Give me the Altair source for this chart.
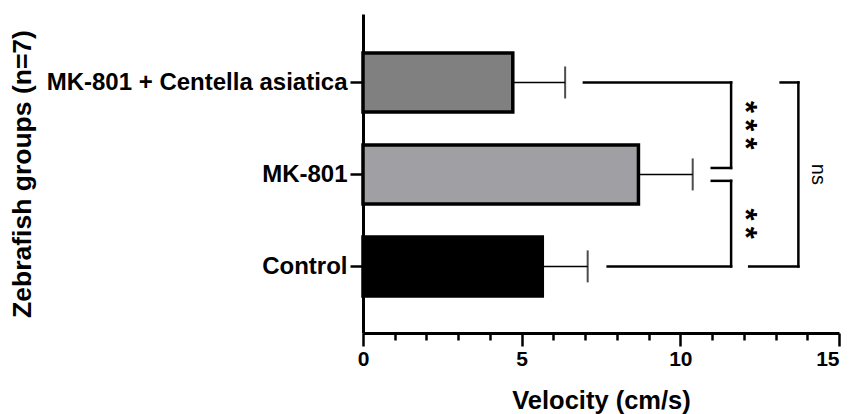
import altair as alt
import pandas as pd

# ---- data ----
groups = ["Control", "MK-801", "MK-801 + Centella asiatica"]
group_pos = [0, 1, 2]
velocity = [5.65, 8.68, 4.72]
sem = [1.43, 1.71, 1.65]
bar_colors = ["#000000", "#A0A0A4", "#808080"]

x_ticks = list(range(0, 16))

# significance brackets (data units)
seg_x = [6.96, 11.6, 10.99, 10.99, 11.6, 7.71, 13.16, 13.72, 12.17]
seg_x2 = [11.6, 11.6, 11.6, 11.6, 11.6, 11.6, 13.72, 13.72, 13.72]
seg_y = [2, 2, 1.07, 0.93, 0.93, 0, 2, 2, 0]
seg_y2 = [2, 1.07, 1.07, 0.93, 0, 0, 2, 0, 0]

star_labels = ["*\u2009*\u2009*", "*\u2009*"]
star_x = [12.0, 12.0]
star_y = [1.535, 0.465]

ns_label = ["ns"]
ns_x = [14.35]
ns_y = [1.0]

FONT = "Liberation Sans"

bars_df = pd.DataFrame({
    "group": groups,
    "pos": group_pos,
    "velocity": velocity,
    "upper": [v + e for v, e in zip(velocity, sem)],
})
seg_df = pd.DataFrame({"x": seg_x, "x2": seg_x2, "y": seg_y, "y2": seg_y2})
star_df = pd.DataFrame({"label": star_labels, "x": star_x, "y": star_y})
ns_df = pd.DataFrame({"label": ns_label, "x": ns_x, "y": ns_y})

label_array = "[" + ",".join("'" + g + "'" for g in groups) + "]"

x_scale = alt.Scale(domain=[0, 15], nice=False, zero=False)
y_scale = alt.Scale(domain=[-0.67, 2.69], nice=False, zero=False)

x_axis = alt.Axis(
    values=x_ticks,
    labelExpr="datum.value % 5 === 0 ? datum.label : ''",
    tickSize={"condition": {"test": "datum.value % 5 === 0", "value": 13}, "value": 7},
    labelAlign={"condition": {"test": "datum.value === 15", "value": "right"}, "value": "center"},
    tickWidth=2.5, tickColor="black",
    domainWidth=3, domainColor="black",
    labelFont=FONT, labelFontSize=21, labelFontWeight="bold", labelColor="black",
    labelPadding=2, labelOverlap=False, labelFlush=False, labelBound=False,
    title="Velocity (cm/s)", titleFont=FONT, titleFontSize=25.5, titleFontWeight="bold",
    titleColor="black", titleY=75, titleBaseline="alphabetic",
    grid=False,
)
y_axis = alt.Axis(
    values=group_pos,
    labelExpr=label_array + "[datum.value]",
    tickSize=13, tickWidth=2.5, tickColor="black",
    domainWidth=3, domainColor="black",
    labelFont=FONT, labelFontSize=24, labelFontWeight="bold", labelColor="black",
    labelPadding=3, labelLimit=500, labelOverlap=False,
    title="Zebrafish groups (n=7)", titleFont=FONT, titleFontSize=26.5, titleFontWeight="bold",
    titleColor="black", titleX=-327, titleY=159.5, titleBaseline="bottom",
    grid=False,
)

base = alt.Chart(bars_df)

bars = base.mark_bar(orient="horizontal", size=59, stroke="black", strokeWidth=3.5).encode(
    x=alt.X("velocity:Q", scale=x_scale, axis=x_axis),
    x2=alt.datum(0),
    y=alt.Y("pos:Q", scale=y_scale, axis=y_axis),
    fill=alt.Fill("group:N", scale=alt.Scale(domain=groups, range=bar_colors), legend=None),
)

err = base.mark_rule(color="black", strokeWidth=1.5).encode(
    x=alt.X("velocity:Q", scale=x_scale, axis=x_axis),
    x2="upper:Q",
    y=alt.Y("pos:Q", scale=y_scale, axis=y_axis),
)

caps = base.mark_tick(orient="vertical", color="black", size=32, thickness=2).encode(
    x=alt.X("upper:Q", scale=x_scale, axis=x_axis),
    y=alt.Y("pos:Q", scale=y_scale, axis=y_axis),
)

brackets = alt.Chart(seg_df).mark_rule(color="black", strokeWidth=2.5, strokeCap="square").encode(
    x=alt.X("x:Q", scale=x_scale, axis=x_axis),
    x2="x2:Q",
    y=alt.Y("y:Q", scale=y_scale, axis=y_axis),
    y2="y2:Q",
)

stars = alt.Chart(star_df).mark_text(
    angle=90, font=FONT, fontSize=31, fontWeight="bold", color="black",
    align="center", baseline="middle",
).encode(
    x=alt.X("x:Q", scale=x_scale, axis=x_axis),
    y=alt.Y("y:Q", scale=y_scale, axis=y_axis),
    text="label:N",
)

ns = alt.Chart(ns_df).mark_text(
    angle=90, font=FONT, fontSize=20, color="black", align="center", baseline="middle",
).encode(
    x=alt.X("x:Q", scale=x_scale, axis=x_axis),
    y=alt.Y("y:Q", scale=y_scale, axis=y_axis),
    text="label:N",
)

chart = alt.layer(bars, err, caps, brackets, stars, ns).properties(
    width=476, height=319,
    autosize=alt.AutoSizeParams(type="none"),
    padding={"left": 355, "top": 6, "right": 5, "bottom": 81},
).configure_view(stroke=None).configure_axis(labelOverlap=False)

chart.save("out.html", embed_options={"renderer": "svg", "actions": False})
